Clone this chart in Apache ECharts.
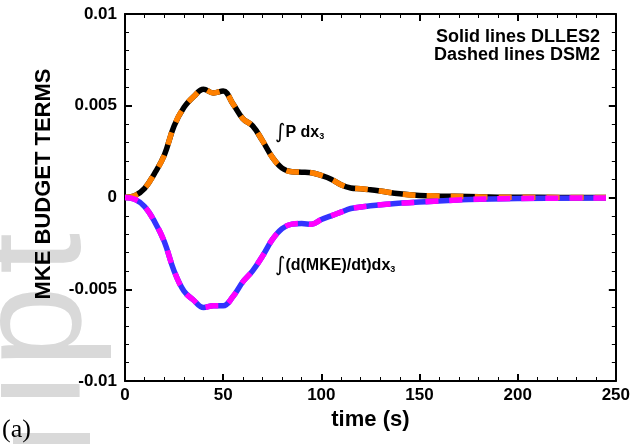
<!DOCTYPE html>
<html>
<head>
<meta charset="utf-8">
<script src="https://cdn.jsdelivr.net/npm/echarts@6/dist/echarts.min.js"></script>
<style>html,body{margin:0;padding:0;background:#fff}#c{width:633px;height:444px}</style>
</head>
<body>
<div id="c"></div>
<script>
// ---- data ----
var pTime = [0,5,10,15,20,25,30,35,40,45,50,55,60,65,70,75,80,85,90,95,100,105,110,115,120,125,130,140,150,160,175,190,210,245];
var pDLLES2 = [0,0.0001,0.0005,0.0013,0.0023,0.0039,0.0049,0.0055,0.0059,0.0057,0.0058,0.0051,0.0043,0.0039,0.0031,0.0022,0.0016,0.0014,0.00138,0.00135,0.0012,0.0010,0.0007,0.00052,0.00048,0.00042,0.00035,0.0002,0.00011,0.00008,0.00005,0.00002,0.00001,0];
var pDSM2 = [0,0.0001,0.0005,0.0013,0.0023,0.0039,0.0049,0.0055,0.0059,0.0057,0.0058,0.0051,0.0043,0.0039,0.0031,0.0022,0.0016,0.0014,0.00138,0.00135,0.0012,0.0010,0.0007,0.00052,0.00048,0.00042,0.00035,0.0002,0.00011,0.00008,0.00005,0.00002,0.00001,0];
var mTime = [0,5,10,15,20,25,30,35,40,45,50,55,60,65,70,75,80,85,90,95,100,105,110,115,120,125,135,150,175,200,245];
var mkeDLLES2 = [0,-0.0001,-0.0005,-0.0013,-0.0024,-0.0040,-0.0051,-0.0056,-0.0060,-0.0059,-0.0059,-0.0054,-0.0046,-0.0040,-0.0032,-0.0023,-0.0017,-0.00145,-0.00142,-0.00146,-0.0012,-0.0010,-0.0008,-0.0006,-0.00052,-0.00045,-0.00035,-0.00025,-0.00011,-0.00005,-0.00003];
var mkeDSM2 = [0,-0.0001,-0.0005,-0.0013,-0.0024,-0.0040,-0.0051,-0.0056,-0.0060,-0.0059,-0.0059,-0.0054,-0.0046,-0.0040,-0.0032,-0.0023,-0.0017,-0.00145,-0.00142,-0.00146,-0.0012,-0.0010,-0.0008,-0.0006,-0.00052,-0.00045,-0.00035,-0.00025,-0.00011,-0.00005,-0.00003];
var xTicks = {min:0, max:250, interval:50};
var yTicks = {min:-0.01, max:0.01, interval:0.005};
var xName = 'time (s)';
var yName = 'MKE BUDGET TERMS';
var legendLines = ['Solid lines DLLES2','Dashed lines DSM2'];

function pairs(t, v){ return t.map(function(x,i){return [x, v[i]];}); }

var chart = echarts.init(document.getElementById('c'), null, {renderer:'canvas'});
var F = '"Liberation Sans", Arial, sans-serif';
var axisCommon = {
  axisLine:{show:true, onZero:false, lineStyle:{color:'#000', width:2}},
  axisTick:{show:true, inside:true, length:7, lineStyle:{color:'#000', width:2}},
  minorTick:{show:true, splitNumber:5, length:4, lineStyle:{color:'#000', width:1}},
  splitLine:{show:false}
};
function ax(extra){ return Object.assign({}, JSON.parse(JSON.stringify(axisCommon)), extra); }
var WM = '148px "Liberation Sans", Arial, sans-serif';
var WMC = '#d9d9d9';

chart.setOption({
  backgroundColor:'#fff',
  animation:false,
  grid:{left:125, right:11, top:14, bottom:63, containLabel:false},
  xAxis:[
    ax({type:'value', position:'bottom', min:xTicks.min, max:xTicks.max, interval:xTicks.interval,
      axisLabel:{color:'#000', fontFamily:F, fontWeight:'bold', fontSize:17, margin:6},
      name:xName, nameLocation:'middle', nameGap:27,
      nameTextStyle:{color:'#000', fontFamily:F, fontWeight:'bold', fontSize:22}}),
    ax({type:'value', position:'top', min:xTicks.min, max:xTicks.max, interval:xTicks.interval,
      axisLabel:{show:false}})
  ],
  yAxis:[
    ax({type:'value', position:'left', min:yTicks.min, max:yTicks.max, interval:yTicks.interval,
      axisLabel:{color:'#000', fontFamily:F, fontWeight:'bold', fontSize:17, margin:8}}),
    ax({type:'value', position:'right', min:yTicks.min, max:yTicks.max, interval:yTicks.interval,
      axisLabel:{show:false}})
  ],
  series:[
    {type:'line', name:'P DLLES2', data:pairs(pTime,pDLLES2), smooth:0.4, showSymbol:false,
      lineStyle:{color:'#000', width:5.5}, z:3},
    {type:'line', name:'P DSM2', data:pairs(pTime,pDSM2), smooth:0.4, showSymbol:false,
      lineStyle:{color:'#ff8000', width:5.5, type:[13,11]}, z:4},
    {type:'line', name:'MKE DLLES2', data:pairs(mTime,mkeDLLES2), smooth:0.4, showSymbol:false,
      lineStyle:{color:'#3333ff', width:5.5}, z:3},
    {type:'line', name:'MKE DSM2', data:pairs(mTime,mkeDSM2), smooth:0.4, showSymbol:false,
      lineStyle:{color:'#ff00ff', width:5.5, type:[13,11]}, z:4}
  ],
  graphic:[
    // faint watermark fragment at the left edge
    {type:'rect', z:-10, silent:true, shape:{x:13, y:433, width:77, height:13}, style:{fill:WMC}},
    {type:'text', x:39, y:407, rotation:Math.PI/2, z:-10, silent:true,
      style:{text:'i', font:WM, fill:WMC, align:'left', verticalAlign:'middle'}},
    {type:'text', x:39, y:368, rotation:Math.PI/2, z:-10, silent:true,
      style:{text:'p', font:WM, fill:WMC, align:'left', verticalAlign:'middle'}},
    {type:'text', x:39, y:274, rotation:Math.PI/2, z:-10, silent:true,
      style:{text:'t', font:WM, fill:WMC, align:'left', verticalAlign:'middle'}},
    {type:'text', x:44, y:184, rotation:Math.PI/2, z:10,
      style:{text:yName, font:'bold 22px '+F, fill:'#000', align:'center', verticalAlign:'middle'}},
    {type:'text', x:600, y:37, z:10,
      style:{text:legendLines[0], font:'bold 18px '+F, fill:'#000', align:'right', verticalAlign:'middle'}},
    {type:'text', x:600, y:55, z:10,
      style:{text:legendLines[1], font:'bold 18px '+F, fill:'#000', align:'right', verticalAlign:'middle'}},
    {type:'text', x:275, y:133, z:10,
      style:{text:'{i|∫}{b|P dx}{s|3}', verticalAlign:'middle', align:'left',
        rich:{i:{font:'20px "DejaVu Sans", sans-serif', fill:'#000'},
              b:{font:'bold 16px '+F, fill:'#000'},
              s:{font:'bold 9px '+F, fill:'#000', padding:[8,0,0,0]}}}},
    {type:'text', x:275, y:266, z:10,
      style:{text:'{i|∫}{b|(d(MKE)/dt)dx}{s|3}', verticalAlign:'middle', align:'left',
        rich:{i:{font:'20px "DejaVu Sans", sans-serif', fill:'#000'},
              b:{font:'bold 16px '+F, fill:'#000'},
              s:{font:'bold 9px '+F, fill:'#000', padding:[8,0,0,0]}}}},
    {type:'text', x:2, y:430, z:10,
      style:{text:'(a)', font:'26px "Liberation Serif", "DejaVu Serif", serif', fill:'#000', align:'left', verticalAlign:'middle'}}
  ]
});
</script>
</body>
</html>
